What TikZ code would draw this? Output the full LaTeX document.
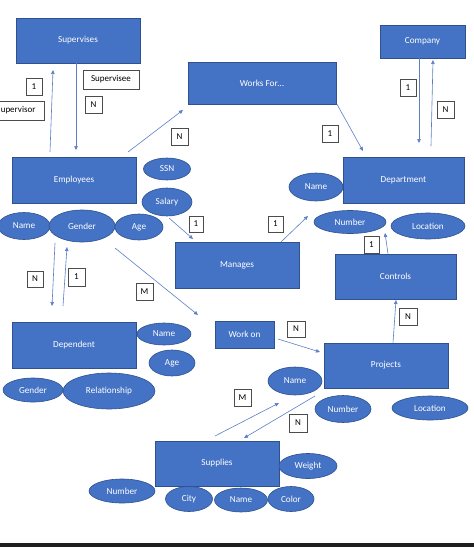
\documentclass[tikz,border=0pt]{standalone}
\usepackage{fontspec}
\setmainfont{Carlito}
\usetikzlibrary{shapes.geometric,arrows.meta}
\definecolor{ofblue}{HTML}{4472C4}
\definecolor{ofedge}{HTML}{2F528F}
\definecolor{arrowc}{HTML}{5B7FC7}
\tikzset{
  ent/.style={rectangle,fill=ofblue,draw=ofedge,line width=0.6pt,text=white,font=\fontsize{9.2}{11}\selectfont,inner sep=0pt},
  att/.style={ellipse,fill=ofblue,draw=ofedge,line width=0.6pt,text=white,font=\fontsize{9.2}{11}\selectfont,inner sep=0pt},
  lbl/.style={rectangle,fill=white,draw=black!70,line width=0.5pt,text=black,font=\fontsize{9}{10}\selectfont,inner sep=0pt},
  lbltext/.style={text=black,font=\fontsize{9}{10}\selectfont,inner sep=0pt},
  conn/.style={draw=arrowc,line width=0.6pt,-{Triangle[width=3.5pt,length=4pt]}}
}
\newcommand{\entnode}[6]{\node[ent,minimum width=#4pt,minimum height=#5pt] (#1) at (#2,#3) {#6};}
\newcommand{\attnode}[6]{\node[att,minimum width=#4pt,minimum height=#5pt] (#1) at (#2,#3) {#6};}
\newcommand{\lblnode}[6]{\node[lbl,minimum width=#4pt,minimum height=#5pt] (#1) at (#2,#3) {#6};}
\begin{document}
\begin{tikzpicture}[x=1pt,y=-1pt]
\useasboundingbox (0,0) rectangle (474,547);
\begin{scope}
\clip (0,0) rectangle (474,547);
\fill[white] (0,0) rectangle (474,547);
% entities
\entnode{sup}{78}{40.5}{124}{45}{Supervises}
\entnode{works}{262}{83}{148}{42}{Works For…}
\entnode{company}{422.5}{41.5}{85}{33}{Company}
\entnode{emp}{74}{180}{124}{46}{Employees}
\entnode{dept}{403.5}{180}{121}{46}{Department}
\entnode{manages}{237}{265}{124}{46}{Manages}
\entnode{controls}{395.5}{276.5}{121}{45}{Controls}
\entnode{dependent}{74}{345}{124}{46}{Dependent}
\entnode{workon}{244.5}{334.5}{59}{27}{Work on}
\entnode{projects}{386}{365.5}{124}{45}{Projects}
\entnode{supplies}{217}{463.5}{124}{45}{Supplies}
% attributes
\attnode{ssn}{167}{169}{47}{22}{SSN}
\attnode{salary}{167}{202}{50}{28}{Salary}
\attnode{ename}{24}{226}{52}{27}{Name}
\attnode{egender}{82}{226}{66}{32}{Gender}
\attnode{eage}{139}{227}{48}{26}{Age}
\attnode{dname}{316}{187}{54}{28}{Name}
\attnode{dnumber}{350}{222}{72}{23}{Number}
\attnode{dlocation}{428}{226}{74}{26}{Location}
\attnode{depname}{164}{334}{54}{22}{Name}
\attnode{depage}{172}{363}{46}{26}{Age}
\attnode{depgender}{33}{390}{60}{24}{Gender}
\attnode{deprel}{109}{391}{92}{36}{Relationship}
\attnode{pname}{295}{381}{54}{28}{Name}
\attnode{pnumber}{343}{409}{56}{27}{Number}
\attnode{plocation}{430}{408}{76}{24}{Location}
\attnode{sweight}{308}{466}{58}{25}{Weight}
\attnode{snumber}{122}{491}{66}{24}{Number}
\attnode{scity}{189}{499}{47}{25}{City}
\attnode{sname}{241}{500}{53}{24}{Name}
\attnode{scolor}{291}{499}{46}{25}{Color}
% label boxes
\lblnode{supervisee}{111}{79.5}{56}{19}{Supervisee}
\lblnode{la}{34}{86.5}{16}{17}{1}
\node[lbl,minimum width=60pt,minimum height=19pt,anchor=east] (supervisor) at (44,110.5) {};
\node[lbltext,anchor=west] (supervisortext) at (0.6,110.5) {upervisor};
\lblnode{lb}{93.5}{104.5}{17}{17}{N}
\lblnode{lc}{179.5}{136.5}{17}{17}{N}
\lblnode{ld}{408}{87.5}{16}{17}{1}
\lblnode{le}{445.5}{109.5}{17}{17}{N}
\lblnode{lf}{330}{133.5}{16}{17}{1}
\lblnode{lg}{196}{224}{14}{16}{1}
\lblnode{lh}{275.5}{224}{15}{16}{1}
\lblnode{li}{371.5}{244.5}{15}{17}{1}
\lblnode{lj}{35}{279}{16}{16}{N}
\lblnode{lk}{76.5}{277}{17}{18}{1}
\lblnode{ll}{144.5}{291.5}{17}{17}{M}
\lblnode{lm}{408}{316.5}{18}{17}{N}
\lblnode{ln}{296}{329}{18}{16}{N}
\lblnode{lo}{242.5}{397.5}{17}{17}{M}
\lblnode{lp}{298}{423}{18}{18}{N}
% connector end points
\coordinate (a1) at (50,152); \coordinate (a2) at (53,70);
\coordinate (b1) at (76,63.3); \coordinate (b2) at (76,150);
\coordinate (c1) at (128,152); \coordinate (c2) at (183,110);
\coordinate (d1) at (337,104.3); \coordinate (d2) at (363,151);
\coordinate (e1) at (419,58.3); \coordinate (e2) at (419,143);
\coordinate (f1) at (431,146); \coordinate (f2) at (433,60);
\coordinate (g1) at (169,218); \coordinate (g2) at (193,239);
\coordinate (h1) at (281,242); \coordinate (h2) at (308,216);
\coordinate (i1) at (388,253.7); \coordinate (i2) at (385,233);
\coordinate (j1) at (55,243); \coordinate (j2) at (52,306);
\coordinate (k1) at (63,306); \coordinate (k2) at (67,247);
\coordinate (m1) at (115,248); \coordinate (m2) at (198,315);
\coordinate (n1) at (393,342.7); \coordinate (n2) at (396,300);
\coordinate (o1) at (278,339); \coordinate (o2) at (320,352);
\coordinate (p1) at (215,436); \coordinate (p2) at (279,403);
\coordinate (q1) at (315,396); \coordinate (q2) at (244,438);
\draw[conn] (a1) -- (a2);
\draw[conn] (b1) -- (b2);
\draw[conn] (c1) -- (c2);
\draw[conn] (d1) -- (d2);
\draw[conn] (e1) -- (e2);
\draw[conn] (f1) -- (f2);
\draw[conn] (g1) -- (g2);
\draw[conn] (h1) -- (h2);
\draw[conn] (i1) -- (i2);
\draw[conn] (j1) -- (j2);
\draw[conn] (k1) -- (k2);
\draw[conn] (m1) -- (m2);
\draw[conn] (n1) -- (n2);
\draw[conn] (o1) -- (o2);
\draw[conn] (p1) -- (p2);
\draw[conn] (q1) -- (q2);
% bottom bar
\fill[black!88] (0,543) rectangle (474,547);
\end{scope}
\end{tikzpicture}
\end{document}
